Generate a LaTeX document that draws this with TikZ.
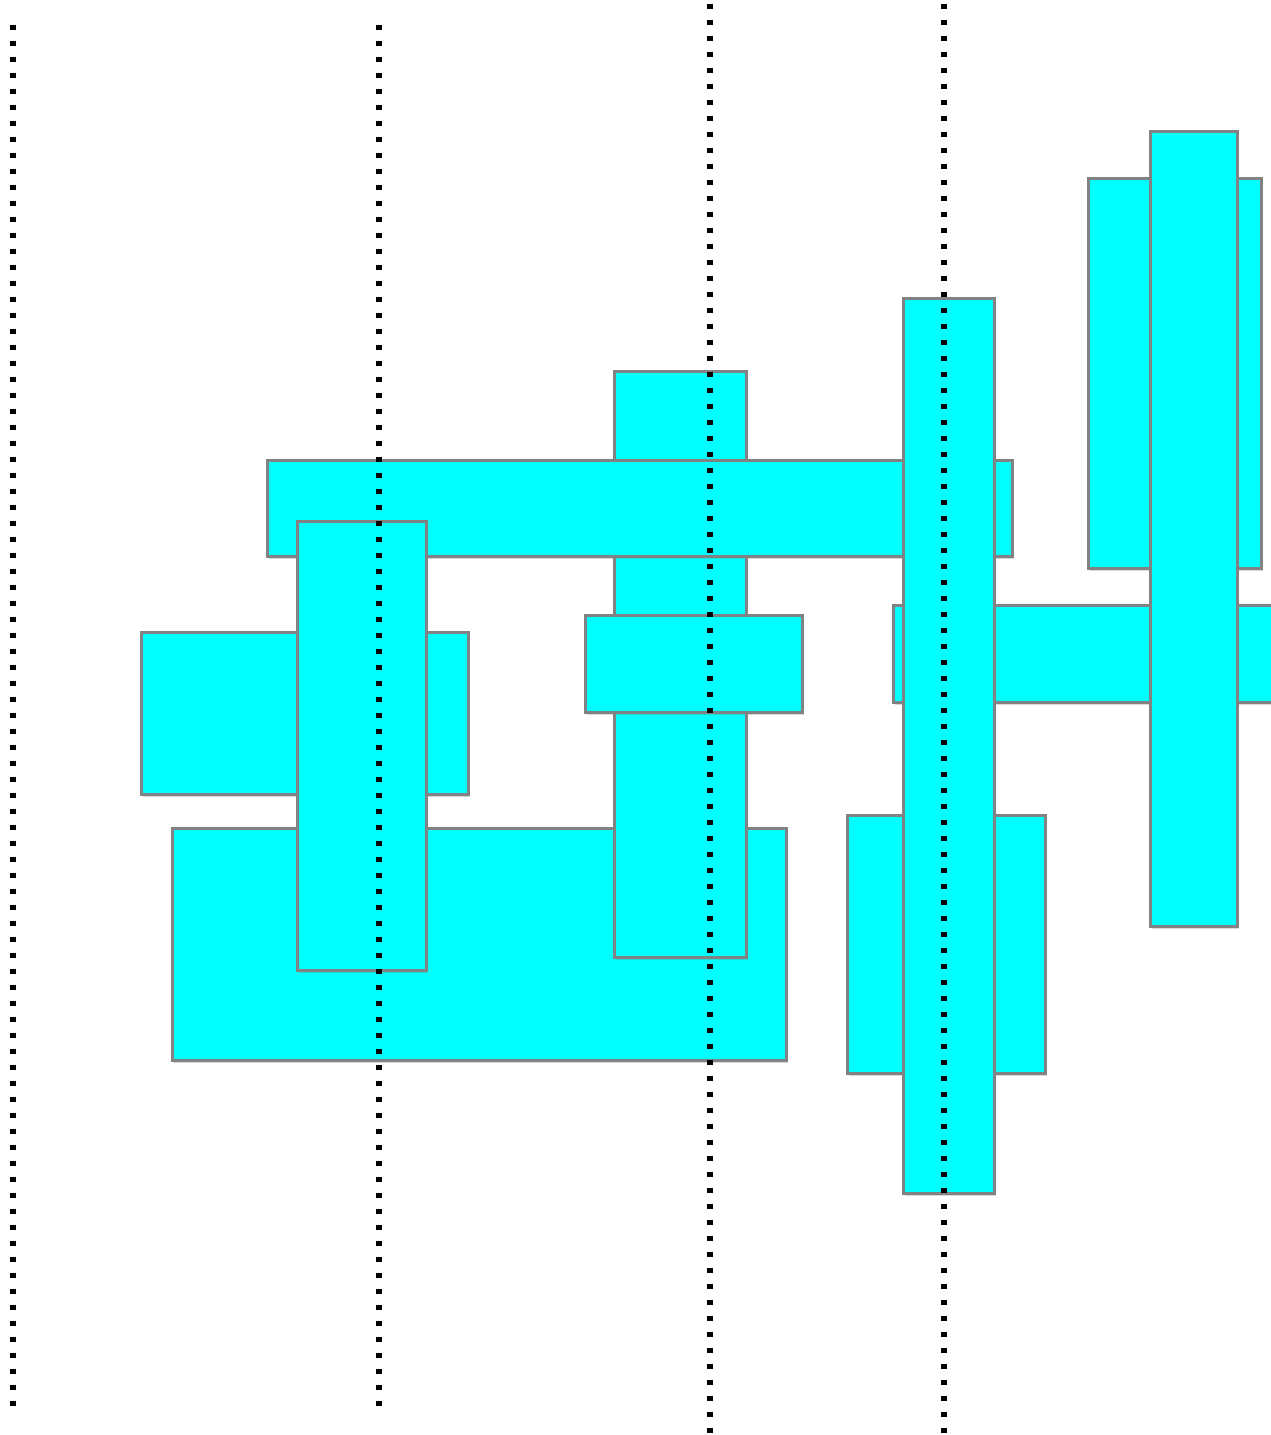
\documentclass[tikz,border=0pt]{standalone}
\usetikzlibrary{shadows}
\definecolor{boxfill}{RGB}{0,255,255}
\definecolor{boxline}{RGB}{130,130,130}
\tikzset{
  box/.style={fill=boxfill, draw=boxline, line width=3pt,
    drop shadow={opacity=0.3, shadow xshift=1.5pt, shadow yshift=-2.5pt}},
  dotline/.style={line width=5.5pt, dash pattern=on 5.5pt off 10.5pt, black}
}
\begin{document}
\begin{tikzpicture}[x=1pt,y=-1pt]
\useasboundingbox (0,0) rectangle (1271,1435);
\clip (0,0) rectangle (1271,1435);
% rectangles (back to front)
\draw[box] (141,632) rectangle (468,794);
\draw[box] (172,828) rectangle (786,1060);
\draw[box] (614,371) rectangle (746,957);
\draw[box] (267,460) rectangle (1012,556);
\draw[box] (297,521) rectangle (426,970);
\draw[box] (585,615) rectangle (802,712);
\draw[box] (847,815) rectangle (1045,1073);
\draw[box] (893,605) rectangle (1285,702);
\draw[box] (1088,178) rectangle (1261,568);
\draw[box] (903,298) rectangle (994,1193);
\draw[box] (1150,131) rectangle (1237,926);
% dotted guide lines
\coordinate (a1) at (13,24.5);  \coordinate (a2) at (13,1406);
\coordinate (b1) at (379,24.5); \coordinate (b2) at (379,1406);
\coordinate (c1) at (710,3.5);  \coordinate (c2) at (710,1435);
\coordinate (d1) at (944,3.5);  \coordinate (d2) at (944,1435);
\draw[dotline] (a1) -- (a2);
\draw[dotline] (b1) -- (b2);
\draw[dotline] (c1) -- (c2);
\draw[dotline] (d1) -- (d2);
\end{tikzpicture}
\end{document}
